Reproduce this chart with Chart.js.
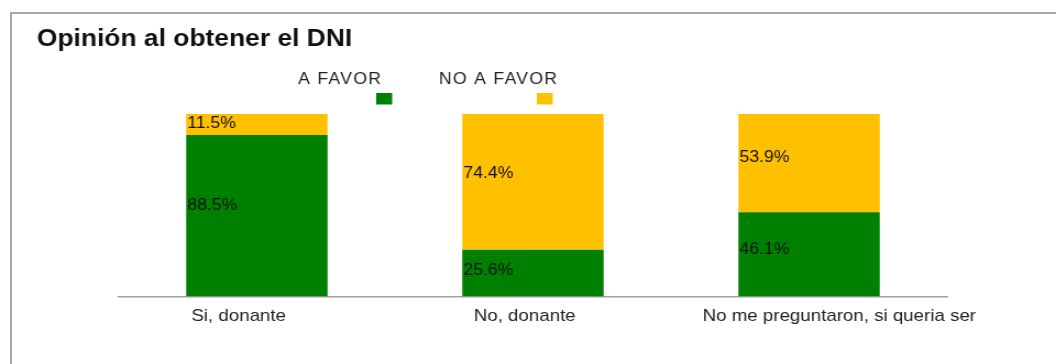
<!DOCTYPE html>
<html>
<head>
<meta charset="utf-8">
<script src="https://cdn.jsdelivr.net/npm/chart.js@4"></script>
<style>
  html, body { margin: 0; padding: 0; background: #fff; overflow: hidden; }
  #frame { position: absolute; left: 10px; top: 12px; width: 1100px; height: 400px;
           border-top: 2px solid #a8a8a8; border-left: 2px solid #a8a8a8; }
  #wrap { position: absolute; left: 0; top: 0; width: 960px; height: 364px;
          transform: scaleX(1.1); transform-origin: 0 0; }
</style>
</head>
<body>
<div id="frame"></div>
<div id="wrap"><canvas id="myChart" width="960" height="364"></canvas></div>
<script>
var chartTitle = 'Opinión al obtener el DNI';
var categories = ['Si, donante', 'No, donante', 'No me preguntaron, si queria ser'];
var seriesNames = ['A FAVOR', 'NO A FAVOR'];
var aFavor = [88.5, 25.6, 46.1];
var noAFavor = [11.5, 74.4, 53.9];
var seriesColors = ['#008000', '#FFC000'];

var FONT = '"Liberation Sans", Arial, sans-serif';

// title + odd legend (text above, swatch below right)
var headerPlugin = {
  id: 'header',
  afterDraw: function (chart) {
    var ctx = chart.ctx;
    ctx.save();
    ctx.fillStyle = '#111';
    ctx.font = 'bold 24px ' + FONT;
    ctx.textBaseline = 'alphabetic';
    ctx.textAlign = 'left';
    ctx.fillText(chartTitle, 33.5, 45.5);

    var textX = [271, 399];
    var boxX = [342, 488];
    ctx.font = '16px ' + FONT;
    ctx.letterSpacing = '1.2px';
    chart.data.datasets.forEach(function (ds, i) {
      ctx.fillStyle = '#222';
      ctx.fillText(ds.label, textX[i], 84);
      ctx.fillStyle = ds.backgroundColor;
      ctx.fillRect(boxX[i], 93, 14.5, 11.5);
    });
    ctx.restore();

    // category labels, the original ones sit a bit off centre
    var tickShift = [-16.5, -7.5, 27.5];
    var xs = chart.scales.x;
    ctx.save();
    ctx.font = '17px ' + FONT;
    ctx.fillStyle = '#222';
    ctx.textAlign = 'center';
    ctx.textBaseline = 'alphabetic';
    categories.forEach(function (c, i) {
      ctx.fillText(c, xs.getPixelForValue(i) + tickShift[i], 321);
    });
    ctx.restore();
  }
};

// value labels at the left edge of each segment
var valuePlugin = {
  id: 'values',
  afterDatasetsDraw: function (chart) {
    var ctx = chart.ctx;
    ctx.save();
    ctx.font = '16px ' + FONT;
    ctx.fillStyle = '#111';
    ctx.textAlign = 'left';
    ctx.textBaseline = 'middle';
    chart.data.datasets.forEach(function (ds, i) {
      var meta = chart.getDatasetMeta(i);
      meta.data.forEach(function (bar, j) {
        var p = bar.getProps(['x', 'y', 'base', 'width'], true);
        var h = p.base - p.y;
        var cy = (p.y + p.base) / 2 - 0.06 * h;
        ctx.fillText(ds.data[j].toFixed(1) + '%', p.x - p.width / 2 + 1, cy);
      });
    });
    ctx.restore();
  }
};

var ctx = document.getElementById('myChart').getContext('2d');
var myChart = new Chart(ctx, {
  type: 'bar',
  data: {
    labels: categories,
    datasets: [
      { label: seriesNames[0], data: aFavor, backgroundColor: seriesColors[0] },
      { label: seriesNames[1], data: noAFavor, backgroundColor: seriesColors[1] }
    ]
  },
  options: {
    responsive: false,
    animation: false,
    layout: { padding: { left: 108, right: 99, top: 114, bottom: 0 } },
    datasets: { bar: { categoryPercentage: 1, barPercentage: 0.512 } },
    plugins: {
      legend: { display: false },
      title: { display: false },
      tooltip: { enabled: false }
    },
    scales: {
      x: {
        stacked: true,
        grid: { display: false, drawTicks: false },
        border: { display: true, color: '#a0a0a0', width: 1.5 },
        ticks: { display: false },
        afterFit: function (s) { s.height = 67.5; }
      },
      y: {
        stacked: true,
        display: false,
        min: 0,
        max: 100
      }
    }
  },
  plugins: [headerPlugin, valuePlugin]
});
</script>
</body>
</html>
